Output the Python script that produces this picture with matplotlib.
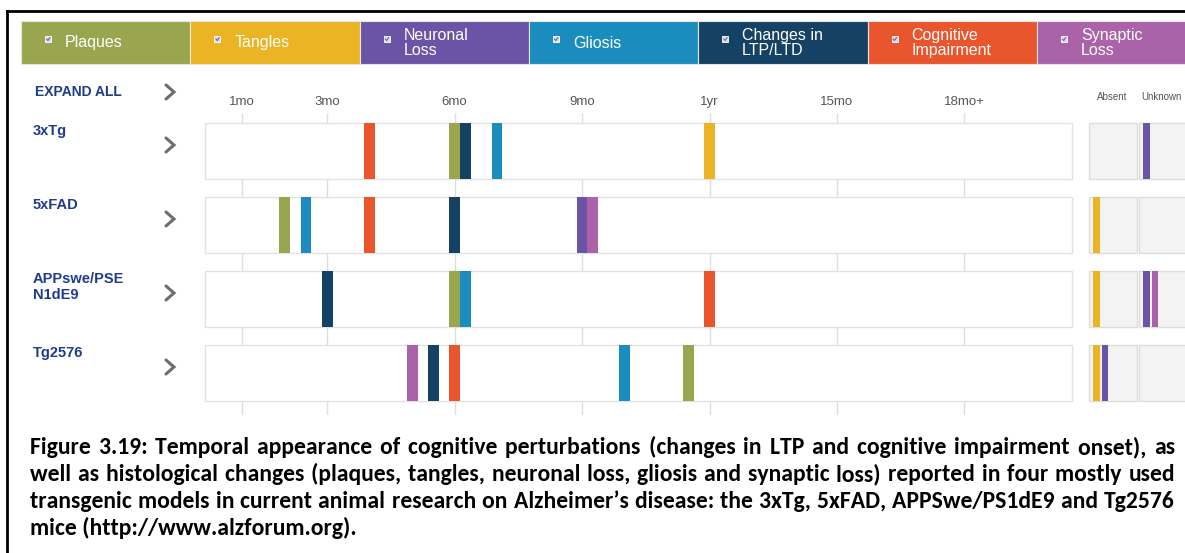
import numpy as np
import matplotlib
matplotlib.use("Agg")
import matplotlib.pyplot as plt
from matplotlib.patches import Rectangle
from matplotlib import font_manager

# --- data -------------------------------------------------------------
categories = ["Plaques", "Tangles", "Neuronal\nLoss", "Gliosis",
              "Changes in\nLTP/LTD", "Cognitive\nImpairment", "Synaptic\nLoss"]
colors = ["#9aa64f", "#eab424", "#6b54a5", "#1b8cbe", "#144164", "#e9552c", "#aa63a8"]
models = ["3xTg", "5xFAD", "APPswe/PSE\nN1dE9", "Tg2576"]

# onset (months) per model, None = not on the timeline
plaques = [6, 2, 6, 11.5]
tangles = [12, None, None, None]
neuronal = [None, 9, None, None]
gliosis = [7, 2.5, 6, 10]
ltp = [6, 6, 3, 5.5]
cognitive = [4, 4, 12, 6]
synaptic = [None, 9, None, 5]
onsets = [plaques, tangles, neuronal, gliosis, ltp, cognitive, synaptic]

# category index shown in the Absent / Unknown columns for each model
absent = [[], [1], [1], [1, 2]]
unknown = [[2], [], [2, 6], []]

tick_months = [1, 3, 6, 9, 12, 15, 18]
tick_labels = ["1mo", "3mo", "6mo", "9mo", "1yr", "15mo", "18mo+"]

caption = ["Figure 3.19: Temporal appearance of cognitive perturbations (changes in LTP and cognitive impairment onset), as",
           "well as histological changes (plaques, tangles, neuronal loss, gliosis and synaptic loss) reported in four mostly used",
           "transgenic models in current animal research on Alzheimer\u2019s disease: the 3xTg, 5xFAD, APPSwe/PS1dE9 and Tg2576",
           "mice (http://www.alzforum.org)."]


def pick_font(names):
    for n in names:
        try:
            font_manager.findfont(n, fallback_to_default=False)
            return n
        except Exception:
            pass
    return "DejaVu Sans"


ui_font = pick_font(["Liberation Sans", "Roboto", "DejaVu Sans"])
cap_font = pick_font(["Carlito", "Lato", "Liberation Sans Narrow", "Open Sans"])
plt.rcParams["font.family"] = [ui_font, "DejaVu Sans"]

W, H = 1185, 553
fig = plt.figure(figsize=(W / 100, H / 100), dpi=100)
bg = fig.add_axes([0, 0, 1, 1])
bg.set_xlim(0, W)
bg.set_ylim(H, 0)
bg.axis("off")


def fax(x0, y0, x1, y1):
    a = fig.add_axes([x0 / W, 1 - y1 / H, (x1 - x0) / W, (y1 - y0) / H])
    a.patch.set_alpha(0)
    a.axis("off")
    return a


# frame
bg.plot([7, 7], [H, 11], color="black", lw=2)
bg.plot([7, W], [11, 11], color="black", lw=2)

# header legend bar
for k, (name, col) in enumerate(zip(categories, colors)):
    x0 = 21 + 169.3 * k
    bg.add_patch(Rectangle((x0, 21), 169.3, 43, fc=col, ec="#e6e6e6", lw=0.8))
    bg.add_patch(Rectangle((x0 + 24, 36), 6, 6, fc="#d9d9ea", ec="white", lw=0.6))
    bg.plot([x0 + 25.5, x0 + 27, x0 + 29], [39, 40.5, 37.5], color="#4a4a8a", lw=0.6)
    bg.text(x0 + 44, 43, name, color="white", fontsize=11.5, va="center", ha="left",
            linespacing=0.92)

# timeline
x_zero, px_mo = 199.8, 42.48
row0, pitch, hgt = 151, 74, 56 / 74
ax = fax(190, 88, 1080, 415)
ax.set_xlim((190 - x_zero) / px_mo, (1080 - x_zero) / px_mo)
ax.set_ylim((415 - row0) / pitch, (88 - row0) / pitch)
ax.vlines(tick_months, (113 - row0) / pitch, (415 - row0) / pitch, color="#dedede", lw=1, zorder=0)
for m, lab in zip(tick_months, tick_labels):
    ax.text(m, (102 - row0) / pitch, lab, ha="center", va="center", fontsize=9.5, color="#555555")

p0, p1 = (205 - x_zero) / px_mo, (1072 - x_zero) / px_mo
bw = 0.25
for i in range(len(models)):
    ax.add_patch(Rectangle((p0, i - hgt / 2 + 0.02), p1 - p0, hgt, fc="#ededed", ec="none", zorder=0.8))
    ax.add_patch(Rectangle((p0, i - hgt / 2), p1 - p0, hgt, fc="white", ec="#e2e2e2", lw=1, zorder=1))
    seen = {}
    for c, vals in enumerate(onsets):
        m = vals[i]
        if m is None:
            continue
        off = seen.get(m, 0)
        seen[m] = off + 1
        ax.bar(m + off * bw, hgt, width=bw, bottom=i - hgt / 2, color=colors[c], zorder=2)

# absent / unknown columns
rx = fax(1085, 88, 1185, 415)
rx.set_xlim(1085, 1185)
rx.set_ylim(ax.get_ylim())
rx.text(1112, (97 - row0) / pitch, "Absent", ha="center", va="center", fontsize=7, color="#555555")
rx.text(1161, (97 - row0) / pitch, "Unknown", ha="center", va="center", fontsize=7, color="#555555")
for i in range(len(models)):
    for x0, w, cats in [(1089, 48, absent[i]), (1139, 60, unknown[i])]:
        rx.add_patch(Rectangle((x0, i - hgt / 2), w, hgt, fc="#f3f3f3", ec="#dddddd", lw=1, zorder=1))
        for k, c in enumerate(cats):
            rx.bar(x0 + 7.5 + 8.5 * k, hgt, width=6.5, bottom=i - hgt / 2, color=colors[c], zorder=2)

# left labels and chevrons
navy = "#1f3c8c"


def chevron(x, y):
    bg.plot([x - 4, x + 4, x - 4], [y - 7, y, y + 7], color="#6d6d6d", lw=2.2,
            solid_capstyle="round", solid_joinstyle="miter")


bg.text(35, 92, "EXPAND ALL", fontsize=10, fontweight="bold", color=navy, va="center")
chevron(170, 92)
for i, name in enumerate(models):
    top = row0 - hgt * pitch / 2 + pitch * i
    bg.text(33, top + 1, name, fontsize=10.5, fontweight="bold", color=navy, va="top", linespacing=1.2)
    chevron(170, top + 22)

# caption: fit size to the widest line, then justify all but the last line
# (each word keeps a trailing space so the glyph baselines line up)
cap_fam = [cap_font, "DejaVu Sans"]
r = fig.canvas.get_renderer()
probe = [bg.text(0, 0, line, fontsize=14, fontweight="bold", family=cap_fam) for line in caption]
wmax = max(t.get_window_extent(r).width for t in probe)
for t in probe:
    t.remove()
fs = 14 * 1138 / wmax
left, right = 30, 1175
for j, line in enumerate(caption):
    y = 454 + 27 * j
    if j == len(caption) - 1:
        bg.text(left, y, line, fontsize=fs, fontweight="bold", family=cap_fam, va="baseline")
        continue
    parts = line.split(" ")
    parts = [p + " " for p in parts[:-1]] + [parts[-1]]
    words = [bg.text(0, y, p, fontsize=fs, fontweight="bold", family=cap_fam, va="baseline")
             for p in parts]
    widths = [w.get_window_extent(r).width for w in words]
    gap = (right - left - sum(widths)) / (len(words) - 1)
    x = left
    for w, wd in zip(words, widths):
        w.set_x(x)
        x += wd + gap

fig.savefig("out.png", dpi=100)
